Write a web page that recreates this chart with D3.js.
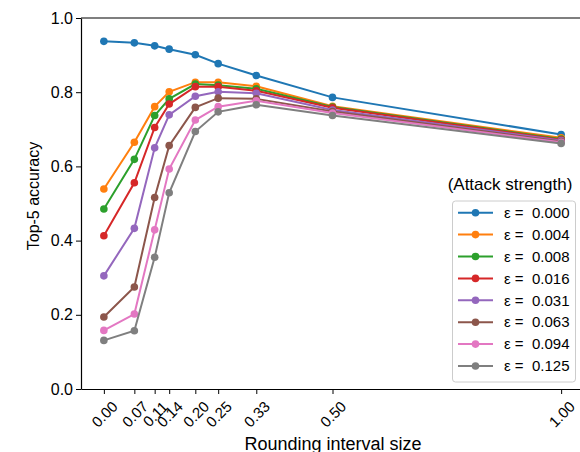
<!DOCTYPE html>
<html>
<head>
<meta charset="utf-8">
<script src="https://cdnjs.cloudflare.com/ajax/libs/d3/7.8.5/d3.min.js"></script>
<style>
  body { margin: 0; background: #fff; }
  text { font-family: "Liberation Sans", Arial, sans-serif; fill: #000; }
</style>
</head>
<body>
<div id="chart"></div>
<script>
// interval sizes on the x axis
var intervals = [0, 1/15, 1/9, 1/7, 0.2, 0.25, 1/3, 0.5, 1];
var tickLabels = ["0.00", "0.07", "0.11", "0.14", "0.20", "0.25", "0.33", "0.50", "1.00"];
var yTicks = [0, 0.2, 0.4, 0.6, 0.8, 1.0];

var epsLabels = ["0.000", "0.004", "0.008", "0.016", "0.031", "0.063", "0.094", "0.125"];
var colors = ["#1f77b4", "#ff7f0e", "#2ca02c", "#d62728", "#9467bd", "#8c564b", "#e377c2", "#7f7f7f"];

var eps000 = [0.937, 0.933, 0.925, 0.916, 0.901, 0.877, 0.845, 0.786, 0.686];
var eps004 = [0.539, 0.665, 0.761, 0.801, 0.827, 0.827, 0.816, 0.762, 0.677];
var eps008 = [0.485, 0.619, 0.737, 0.782, 0.822, 0.819, 0.809, 0.760, 0.674];
var eps016 = [0.413, 0.556, 0.705, 0.768, 0.815, 0.815, 0.804, 0.758, 0.672];
var eps031 = [0.305, 0.433, 0.650, 0.739, 0.789, 0.801, 0.797, 0.752, 0.670];
var eps063 = [0.194, 0.275, 0.516, 0.656, 0.759, 0.784, 0.782, 0.748, 0.667];
var eps094 = [0.158, 0.202, 0.429, 0.593, 0.725, 0.761, 0.777, 0.744, 0.665];
var eps125 = [0.131, 0.157, 0.355, 0.529, 0.694, 0.747, 0.766, 0.737, 0.662];
var series = [eps000, eps004, eps008, eps016, eps031, eps063, eps094, eps125];

var width = 580, height = 452;
var plotL = 81, plotT = 18, plotR = 584, plotB = 389;

var svg = d3.select("#chart").append("svg")
    .attr("width", width)
    .attr("height", height);

var x = d3.scaleLinear().domain([-0.05, 1.05]).range([plotL, plotR]);
var y = d3.scaleLinear().domain([0, 1]).range([plotB, plotT]);

// x axis
var xAxis = svg.append("g")
    .attr("transform", "translate(0," + plotB + ")")
    .call(d3.axisBottom(x).tickValues(intervals).tickSize(5).tickSizeOuter(0)
      .tickFormat(function(d, i) { return tickLabels[i]; }));
xAxis.select(".domain").attr("stroke", "#000").attr("stroke-width", 1.2);
xAxis.selectAll(".tick line").attr("stroke", "#000").attr("stroke-width", 1);
xAxis.selectAll(".tick text")
    .attr("y", 0).attr("dy", null)
    .attr("font-size", 15)
    .attr("text-anchor", "middle")
    .attr("dominant-baseline", "central")
    .attr("transform", "translate(0,25) rotate(-45)");

// y axis
var yAxis = svg.append("g")
    .attr("transform", "translate(" + plotL + ",0)")
    .call(d3.axisLeft(y).tickValues(yTicks).tickSize(5).tickSizeOuter(0)
      .tickFormat(d3.format(".1f")));
yAxis.select(".domain").attr("stroke", "#000").attr("stroke-width", 1.2);
yAxis.selectAll(".tick line").attr("stroke", "#000").attr("stroke-width", 1);
yAxis.selectAll(".tick text").attr("font-size", 16).attr("x", -8);

// top spine
svg.append("line")
    .attr("x1", plotL).attr("x2", plotR)
    .attr("y1", plotT).attr("y2", plotT)
    .attr("stroke", "#000").attr("stroke-width", 1.2);

// labels
svg.append("text")
    .attr("x", 333).attr("y", 450)
    .attr("text-anchor", "middle")
    .attr("font-size", 18)
    .text("Rounding interval size");

svg.append("text")
    .attr("transform", "translate(39,196) rotate(-90)")
    .attr("text-anchor", "middle")
    .attr("font-size", 16)
    .text("Top-5 accuracy");

// lines + markers
var line = d3.line()
    .x(function(d, i) { return x(intervals[i]); })
    .y(function(d) { return y(d); });

series.forEach(function(vals, k) {
  var g = svg.append("g");
  g.append("path")
      .datum(vals)
      .attr("d", line)
      .attr("fill", "none")
      .attr("stroke", colors[k])
      .attr("stroke-width", 2);
  g.selectAll("circle")
      .data(vals)
      .enter().append("circle")
      .attr("cx", function(d, i) { return x(intervals[i]); })
      .attr("cy", function(d) { return y(d); })
      .attr("r", 3.8)
      .attr("fill", colors[k]);
});

// legend
svg.append("text")
    .attr("x", 510).attr("y", 190)
    .attr("text-anchor", "middle")
    .attr("font-size", 17)
    .text("(Attack strength)");

var legend = svg.append("g");
legend.append("rect")
    .attr("x", 452.5).attr("y", 201)
    .attr("width", 123).attr("height", 181)
    .attr("rx", 3)
    .attr("fill", "#fff").attr("fill-opacity", 0.8)
    .attr("stroke", "#ccc");

var rows = legend.selectAll(".row")
    .data(epsLabels)
    .enter().append("g")
    .attr("class", "row")
    .attr("transform", function(d, i) { return "translate(0," + (212.7 + i * 21.9) + ")"; });

rows.append("line")
    .attr("x1", 458).attr("x2", 493)
    .attr("stroke", function(d, i) { return colors[i]; })
    .attr("stroke-width", 2);
rows.append("circle")
    .attr("cx", 475.5).attr("r", 3.8)
    .attr("fill", function(d, i) { return colors[i]; });
rows.append("text")
    .attr("x", 504)
    .attr("dy", "0.35em")
    .attr("font-size", 15)
    .style("white-space", "pre")
    .text(function(d) { return "\u03b5 =  " + d; });
</script>
</body>
</html>
